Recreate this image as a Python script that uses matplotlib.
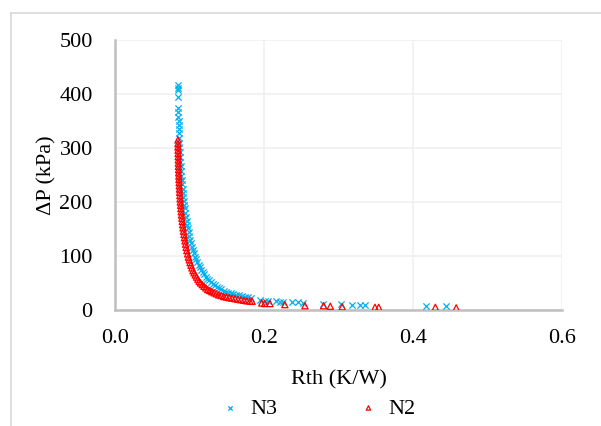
import matplotlib
matplotlib.use('Agg')
import matplotlib.pyplot as plt
from matplotlib.lines import Line2D

plt.rcParams['font.family'] = ['Liberation Serif', 'DejaVu Serif']

# N3 pareto points (Rth in K/W, dP in kPa)
n3_rth = [0.0845, 0.0846, 0.0846, 0.0847, 0.0849, 0.0851, 0.0851, 0.0853, 0.0854, 0.0857,
          0.0858, 0.0861, 0.0863, 0.0866, 0.0870, 0.0872, 0.0877, 0.0880, 0.0886, 0.0890,
          0.0896, 0.0900, 0.0907, 0.0912, 0.0919, 0.0925, 0.0932, 0.0938, 0.0946, 0.0953,
          0.0962, 0.0970, 0.0980, 0.0989, 0.1000, 0.1010, 0.1022, 0.1034, 0.1047, 0.1060,
          0.1075, 0.1090, 0.1106, 0.1122, 0.1140, 0.1158, 0.1177, 0.1197, 0.1218, 0.1241,
          0.1265, 0.1290, 0.1315, 0.1342, 0.1370, 0.1398, 0.1428, 0.1458, 0.1490, 0.1522,
          0.1556, 0.1590, 0.1628, 0.1664, 0.1702, 0.1742, 0.1785, 0.1822,
          0.195, 0.201, 0.205, 0.216, 0.221, 0.225, 0.237, 0.246, 0.252, 0.279,
          0.304, 0.318, 0.329, 0.336, 0.418, 0.444]
n3_dp = [416, 411, 407, 395, 374, 366, 358, 350, 342, 335,
         327, 318, 310, 301, 292, 284, 275, 266, 258, 249,
         241, 233, 225, 217, 209, 202, 195, 188, 180, 172,
         165, 158, 151, 144, 137, 130, 124, 117, 111, 105,
         99, 94, 89, 84, 79, 74, 70, 66, 62, 58,
         55, 52, 49, 46, 43, 41, 38, 36, 34, 32,
         31, 29, 28, 27, 26, 25, 24, 23,
         18, 17, 17, 16, 15, 15, 14, 14, 13, 12,
         11, 10, 10, 9, 8, 7]

# N2 pareto points
n2_rth = [0.0845, 0.0845, 0.0846, 0.0847, 0.0848, 0.0849, 0.0850, 0.0851, 0.0852, 0.0854,
          0.0855, 0.0857, 0.0859, 0.0861, 0.0863, 0.0866, 0.0868, 0.0871, 0.0874, 0.0877,
          0.0881, 0.0885, 0.0889, 0.0893, 0.0898, 0.0903, 0.0908, 0.0914, 0.0920, 0.0926,
          0.0933, 0.0940, 0.0948, 0.0956, 0.0965, 0.0975, 0.0985, 0.0996, 0.1008, 0.1020,
          0.1033, 0.1047, 0.1062, 0.1078, 0.1095, 0.1112, 0.1130, 0.1150, 0.1172, 0.1195,
          0.1220, 0.1245, 0.1272, 0.1300, 0.1330, 0.1360, 0.1392, 0.1425, 0.1460, 0.1495,
          0.1532, 0.1570, 0.1610, 0.1650, 0.1690, 0.1730, 0.1770, 0.1810, 0.1840,
          0.197, 0.201, 0.208, 0.228, 0.255, 0.280, 0.289, 0.305, 0.349, 0.354,
          0.430, 0.458]
n2_dp = [315, 308, 302, 296, 290, 284, 278, 272, 266, 260,
         254, 248, 242, 236, 230, 224, 218, 212, 206, 200,
         194, 188, 182, 176, 170, 164, 158, 152, 146, 140,
         134, 128, 122, 116, 110, 104, 98, 93, 88, 83,
         78, 73, 69, 65, 61, 57, 53, 50, 47, 44,
         41, 38, 36, 34, 32, 30, 28, 27, 25, 24,
         23, 22, 21, 20, 19, 18, 17, 16.5, 16,
         13, 12, 12, 10, 8, 8, 7, 6, 5, 5,
         5, 4]

x_ticks = [0.0, 0.2, 0.4, 0.6]
y_ticks = [0, 100, 200, 300, 400, 500]

fs = 16

fig = plt.figure(figsize=(6.01, 4.26), dpi=100)
ax = fig.add_axes([0.1913, 0.2723, 0.7438, 0.6338])

ax.scatter(n3_rth, n3_dp, marker='x', s=20, color='#00b0f0', linewidths=0.9, label='N3', zorder=3)
ax.scatter(n2_rth, n2_dp, marker='^', s=20, facecolors='none', edgecolors='#ff0000',
           linewidths=0.9, label='N2', zorder=4)

ax.set_xlim(0, 0.6)
ax.set_ylim(0, 500)
ax.set_xticks(x_ticks)
ax.set_xticklabels([f'{v:.1f}' for v in x_ticks])
ax.set_yticks(y_ticks)
ax.grid(True, color='#efefef', lw=1.1, zorder=0)
ax.set_axisbelow(True)
for s in ['top', 'right']:
    ax.spines[s].set_visible(False)
for s in ['left', 'bottom']:
    ax.spines[s].set_color('#bfbfbf')
    ax.spines[s].set_linewidth(1.8)
ax.tick_params(axis='both', length=0, labelsize=fs, colors='black')
ax.tick_params(axis='y', pad=16)
ax.tick_params(axis='x', pad=14)

ax.set_xlabel('Rth (K/W)', fontsize=fs, labelpad=16)
ax.set_ylabel('ΔP (kPa)', fontsize=fs, labelpad=2)

fig.legend(loc='lower center', bbox_to_anchor=(0.53, -0.03), ncol=2, frameon=False,
           fontsize=fs, handlelength=0.8, handletextpad=0.5, columnspacing=3.7,
           markerscale=0.7)

# outer chart-area border (cropped on the right and bottom)
yb = 1 - 13 / 426
xb = 11 / 601
fig.add_artist(Line2D([xb, xb], [0, yb], transform=fig.transFigure, color='#d9d9d9', lw=1.2))
fig.add_artist(Line2D([xb, 1], [yb, yb], transform=fig.transFigure, color='#d9d9d9', lw=1.2))

fig.savefig('out.png', dpi=100)
